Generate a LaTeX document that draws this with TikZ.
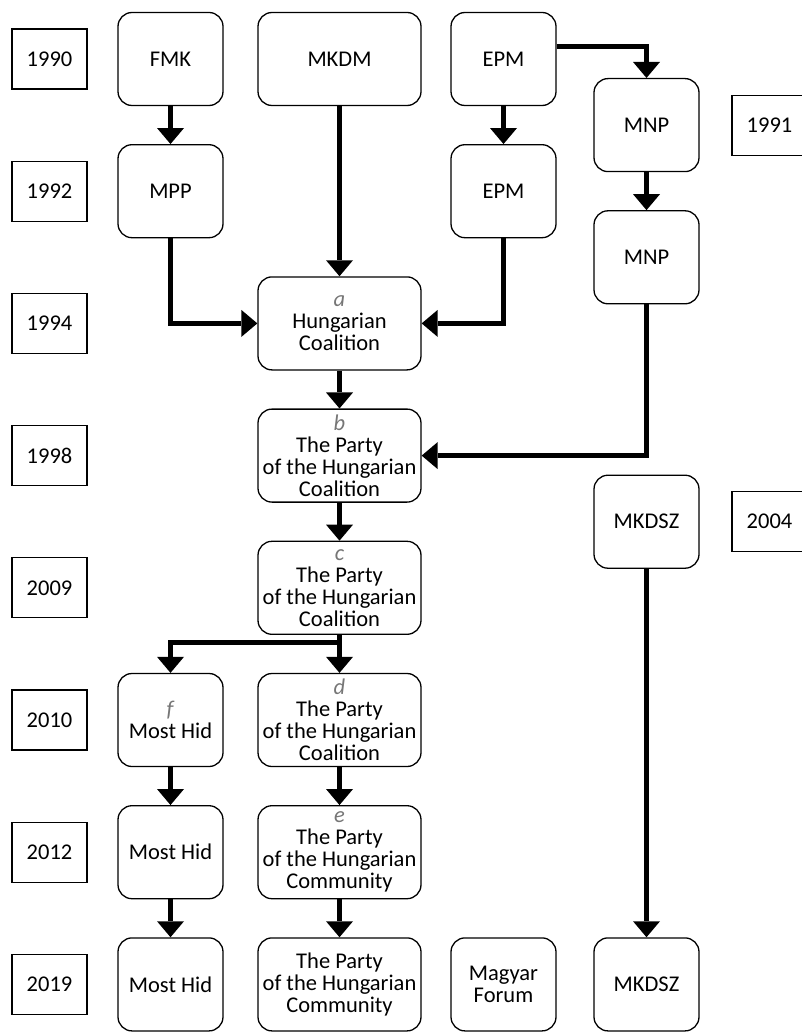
\documentclass[tikz,border=0pt]{standalone}
\usepackage{fontspec}
\setmainfont{Carlito}
\usetikzlibrary{arrows.meta}
\definecolor{lettergray}{HTML}{767676}
\newcommand{\partyletter}[1]{\textcolor{lettergray}{\textit{#1}}}
\begin{document}
\begin{tikzpicture}[x=1pt, y=-1pt, node distance=132.2pt,
    font=\fontsize{22.5}{22}\selectfont,
    party/.style={draw, line width=1.3pt, rounded corners=14pt, minimum width=105pt, minimum height=93pt, inner sep=0pt, align=center},
    wideparty/.style={party, minimum width=163pt},
    yearbox/.style={draw, line width=1.1pt, minimum width=75pt, minimum height=60pt, inner sep=0pt},
    link/.style={line width=5pt, -{Triangle[width=27pt, length=16pt, line width=0pt]}}]
           \useasboundingbox (0,0) rectangle (801,1032);

           % years on the left
           \node[yearbox] (y1990) at (49.5,59) {1990};
           \node[yearbox, below of=y1990] (y1992) {1992};
           \node[yearbox, below of=y1992] (y1994) {1994};
           \node[yearbox, below of=y1994] (y1998) {1998};
           \node[yearbox, below of=y1998] (y2009) {2009};
           \node[yearbox, below of=y2009] (y2010) {2010};
           \node[yearbox, below of=y2010] (y2012) {2012};
           \node[yearbox, below of=y2012] (y2019) {2019};

           % years on the right
           \node[yearbox] (y1991) at (769.5,125.1) {1991};
           \node[yearbox] (y2004) at (769.5,521.7) {2004};

           % first column
           \node[party] (fmk) at (170.5,59) {FMK};
           \node[party, below of=fmk] (mpp) {MPP};
           \node[party] (hidf) at (170.5,720) {\partyletter{f}\\Most Hid};
           \node[party, below of=hidf] (hidb) {Most Hid};
           \node[party, below of=hidb] (hidc) {Most Hid};

           % second column
           \node[wideparty] (mkdm) at (339.5,59) {MKDM};
           \node[wideparty] (coala) at (339.5,323.4) {\partyletter{a}\\Hungarian\\Coalition};
           \node[wideparty, below of=coala] (smkb) {\partyletter{b}\\The Party\\of the Hungarian\\Coalition};
           \node[wideparty, below of=smkb] (smkc) {\partyletter{c}\\The Party\\of the Hungarian\\Coalition};
           \node[wideparty, below of=smkc] (smkd) {\partyletter{d}\\The Party\\of the Hungarian\\Coalition};
           \node[wideparty, below of=smkd] (smke) {\partyletter{e}\\The Party\\of the Hungarian\\Community};
           \node[wideparty, below of=smke] (smkf) {The Party\\of the Hungarian\\Community};

           % third column
           \node[party] (epm) at (503.5,59) {EPM};
           \node[party, below of=epm] (epmb) {EPM};
           \node[party] (forum) at (503.5,984.4) {Magyar\\Forum};

           % fourth column
           \node[party] (mnp) at (646.5,125.1) {MNP};
           \node[party, below of=mnp] (mnpb) {MNP};
           \node[party] (mkdsz) at (646.5,521.7) {MKDSZ};
           \node[party] (mkdszb) at (646.5,984.4) {MKDSZ};

           \draw[link] (fmk) -- (mpp);
           \draw[link] (mpp) |- (coala);
           \draw[link] (mkdm) -- (coala);
           \draw[link] (epm) -- (epmb);
           \draw[link] (epmb) |- (coala);
           \draw[link] ([yshift=12pt]epm.east) -| (mnp);
           \draw[link] (mnp) -- (mnpb);
           \draw[link] (mnpb) |- (smkb);
           \draw[link] (coala) -- (smkb);
           \draw[link] (smkb) -- (smkc);
           \draw[link] (smkc) -- (smkd);
           \draw[link] (smkc.south) -- ++(0,8) -| (hidf);
           \draw[link] (smkd) -- (smke);
           \draw[link] (smke) -- (smkf);
           \draw[link] (hidf) -- (hidb);
           \draw[link] (hidb) -- (hidc);
           \draw[link] (mkdsz) -- (mkdszb);
       \end{tikzpicture}
\end{document}
